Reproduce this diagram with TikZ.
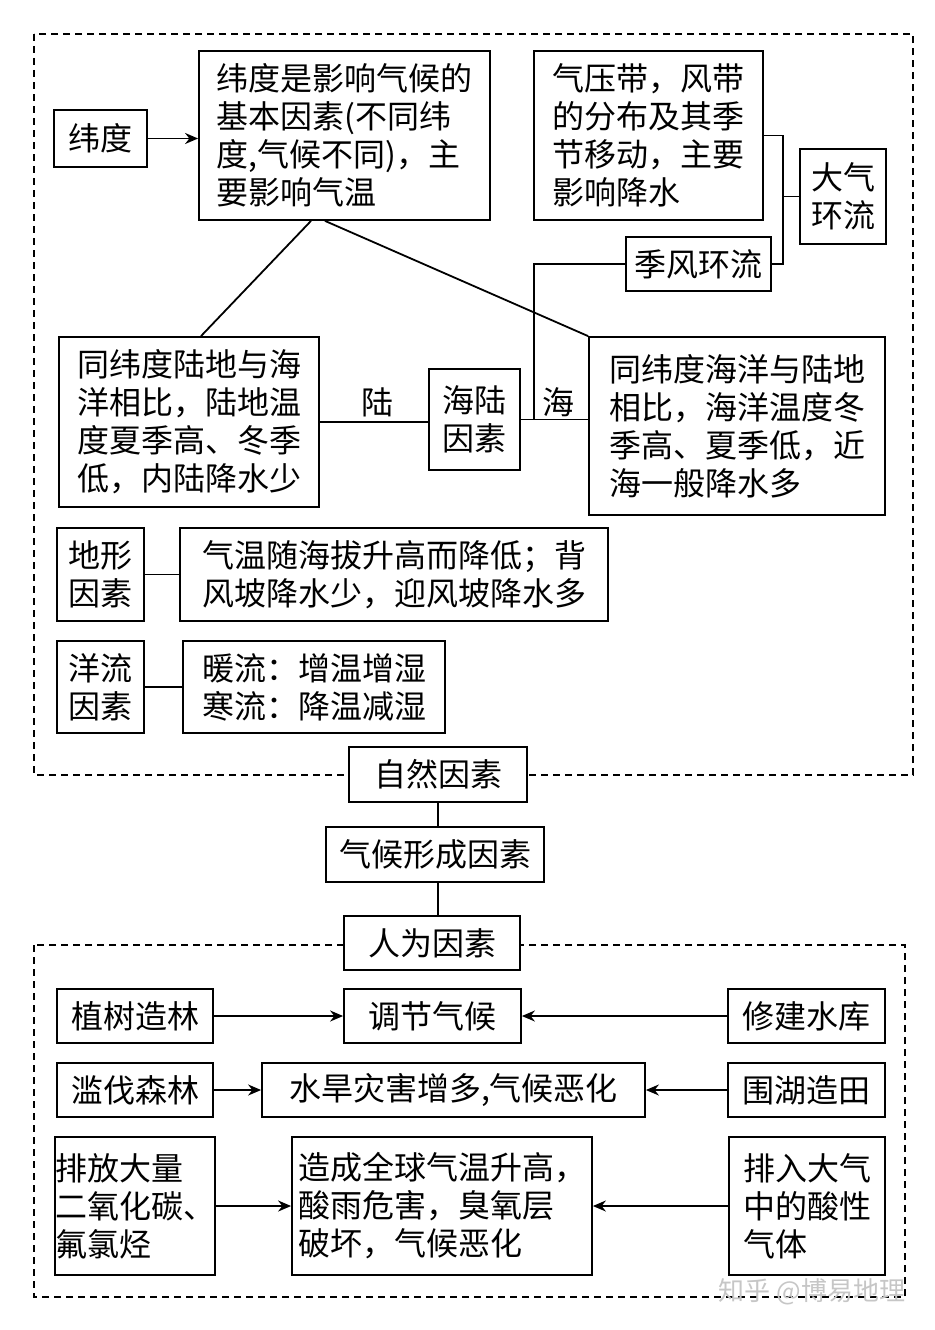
\documentclass[tikz,border=0pt]{standalone}
\usepackage{fontspec}
\setmainfont{Noto Sans CJK SC}
\usetikzlibrary{arrows.meta,calc}
\newcommand\dbx[6]{\node[box,minimum width={(#4-#2)*1pt},minimum height={(#5-#3)*1pt}] (#1) at ({(#2+#4)/2},{(#3+#5)/2}) {#6};}
\begin{document}
\begin{tikzpicture}[x=1pt,y=-1pt,
  box/.style={draw,fill=white,line width=1.8pt,inner sep=0pt,font=\fontsize{32}{38}\selectfont,align=left},
  lbl/.style={inner sep=0pt,font=\fontsize{32}{38}\selectfont},
  ln/.style={line width=1.8pt},
  arr/.style={line width=1.8pt,-{Stealth[length=13pt,width=11pt]}},
  dbox/.style={line width=1.6pt,dash pattern=on 7pt off 5pt}]
\fill[white] (0,0) rectangle (934,1330);
\useasboundingbox (0,0) rectangle (934,1330);
% dashed frames
\draw[dbox] (34,34) rectangle (913,775);
\draw[dbox] (34,945) rectangle (905,1297);
% natural factors
\dbx{wd1}{54}{110}{147}{167}{纬度}
\dbx{wd2}{199}{51}{490}{220}{纬度是影响气候的\\基本因素(不同纬\\度,气候不同)，主\\要影响气温}
\dbx{qy}{534}{51}{763}{220}{气压带，风带\\的分布及其季\\节移动，主要\\影响降水}
\dbx{dq}{800}{149}{886}{244}{大气\\环流}
\dbx{jf}{626}{237}{771}{291}{季风环流}
\dbx{ld}{59}{337}{319}{507}{同纬度陆地与海\\洋相比，陆地温\\度夏季高、冬季\\低，内陆降水少}
\dbx{hl}{429}{369}{520}{470}{海陆\\因素}
\dbx{hy}{589}{337}{885}{515}{同纬度海洋与陆地\\相比，海洋温度冬\\季高、夏季低，近\\海一般降水多}
\dbx{dx}{57}{528}{144}{621}{地形\\因素}
\dbx{dxt}{180}{528}{608}{621}{气温随海拔升高而降低；背\\风坡降水少，迎风坡降水多}
\dbx{yl}{57}{641}{144}{733}{洋流\\因素}
\dbx{ylt}{183}{641}{445}{733}{暖流：增温增湿\\寒流：降温减湿}
\dbx{zr}{349}{747}{527}{802}{自然因素}
\dbx{qh}{326}{827}{544}{882}{气候形成因素}
\dbx{rw}{344}{916}{520}{970}{人为因素}
% human factors
\dbx{a1}{57}{989}{213}{1043}{植树造林}
\dbx{a2}{344}{989}{521}{1043}{调节气候}
\dbx{a3}{728}{989}{885}{1043}{修建水库}
\dbx{b1}{57}{1063}{213}{1117}{滥伐森林}
\dbx{b2}{262}{1063}{645}{1117}{水旱灾害增多,气候恶化}
\dbx{b3}{728}{1063}{885}{1117}{围湖造田}
\dbx{c1}{57}{1137}{213}{1275}{排放大量\\二氧化碳、\\氟氯烃}
\dbx{c2}{292}{1137}{592}{1275}{造成全球气温升高，\\酸雨危害，臭氧层\\破坏，气候恶化}
\dbx{c3}{729}{1137}{885}{1275}{排入大气\\中的酸性\\气体}
% labels
\node[lbl] (lu) at (377,402) {陆};
\node[lbl] (hai) at (558,402) {海};
% connectors
\coordinate (br) at (783,0);
\coordinate (hj) at (534,0);
\draw[arr] (wd1.east) -- (wd1.east -| wd2.west);
\draw[ln] (qy.east) -- (qy.east -| br) -- (br |- jf.east) -- (jf.east);
\draw[ln] (br |- dq.west) -- (dq.west);
\draw[ln] (jf.west) -| (hj |- hl.east);
\draw[ln] (hl.east) -- (hl.east -| hy.west);
\draw[ln] (ld.east) -- (ld.east -| hl.west);
\draw[ln] ([xshift=-33.5pt]wd2.south) -- ([xshift=12pt]ld.north);
\draw[ln] ([xshift=-19.5pt]wd2.south) -- (hy.north west);
\draw[ln] (dx.east) -- (dx.east -| dxt.west);
\draw[ln] (yl.east) -- (yl.east -| ylt.west);
\draw[ln] (zr.south) -- (zr.south |- qh.north);
\draw[ln] (zr.south |- qh.south) -- (zr.south |- rw.north);
\draw[arr] (a1.east) -- (a1.east -| a2.west);
\draw[arr] (a3.west) -- (a3.west -| a2.east);
\draw[arr] (b1.east) -- (b1.east -| b2.west);
\draw[arr] (b3.west) -- (b3.west -| b2.east);
\draw[arr] (c1.east) -- (c1.east -| c2.west);
\draw[arr] (c3.west) -- (c3.west -| c2.east);
% watermark
\node[text=gray!45,font=\fontsize{26}{30}\selectfont] (wm) at (812,1292) {知乎 @博易地理};
\end{tikzpicture}
\end{document}
